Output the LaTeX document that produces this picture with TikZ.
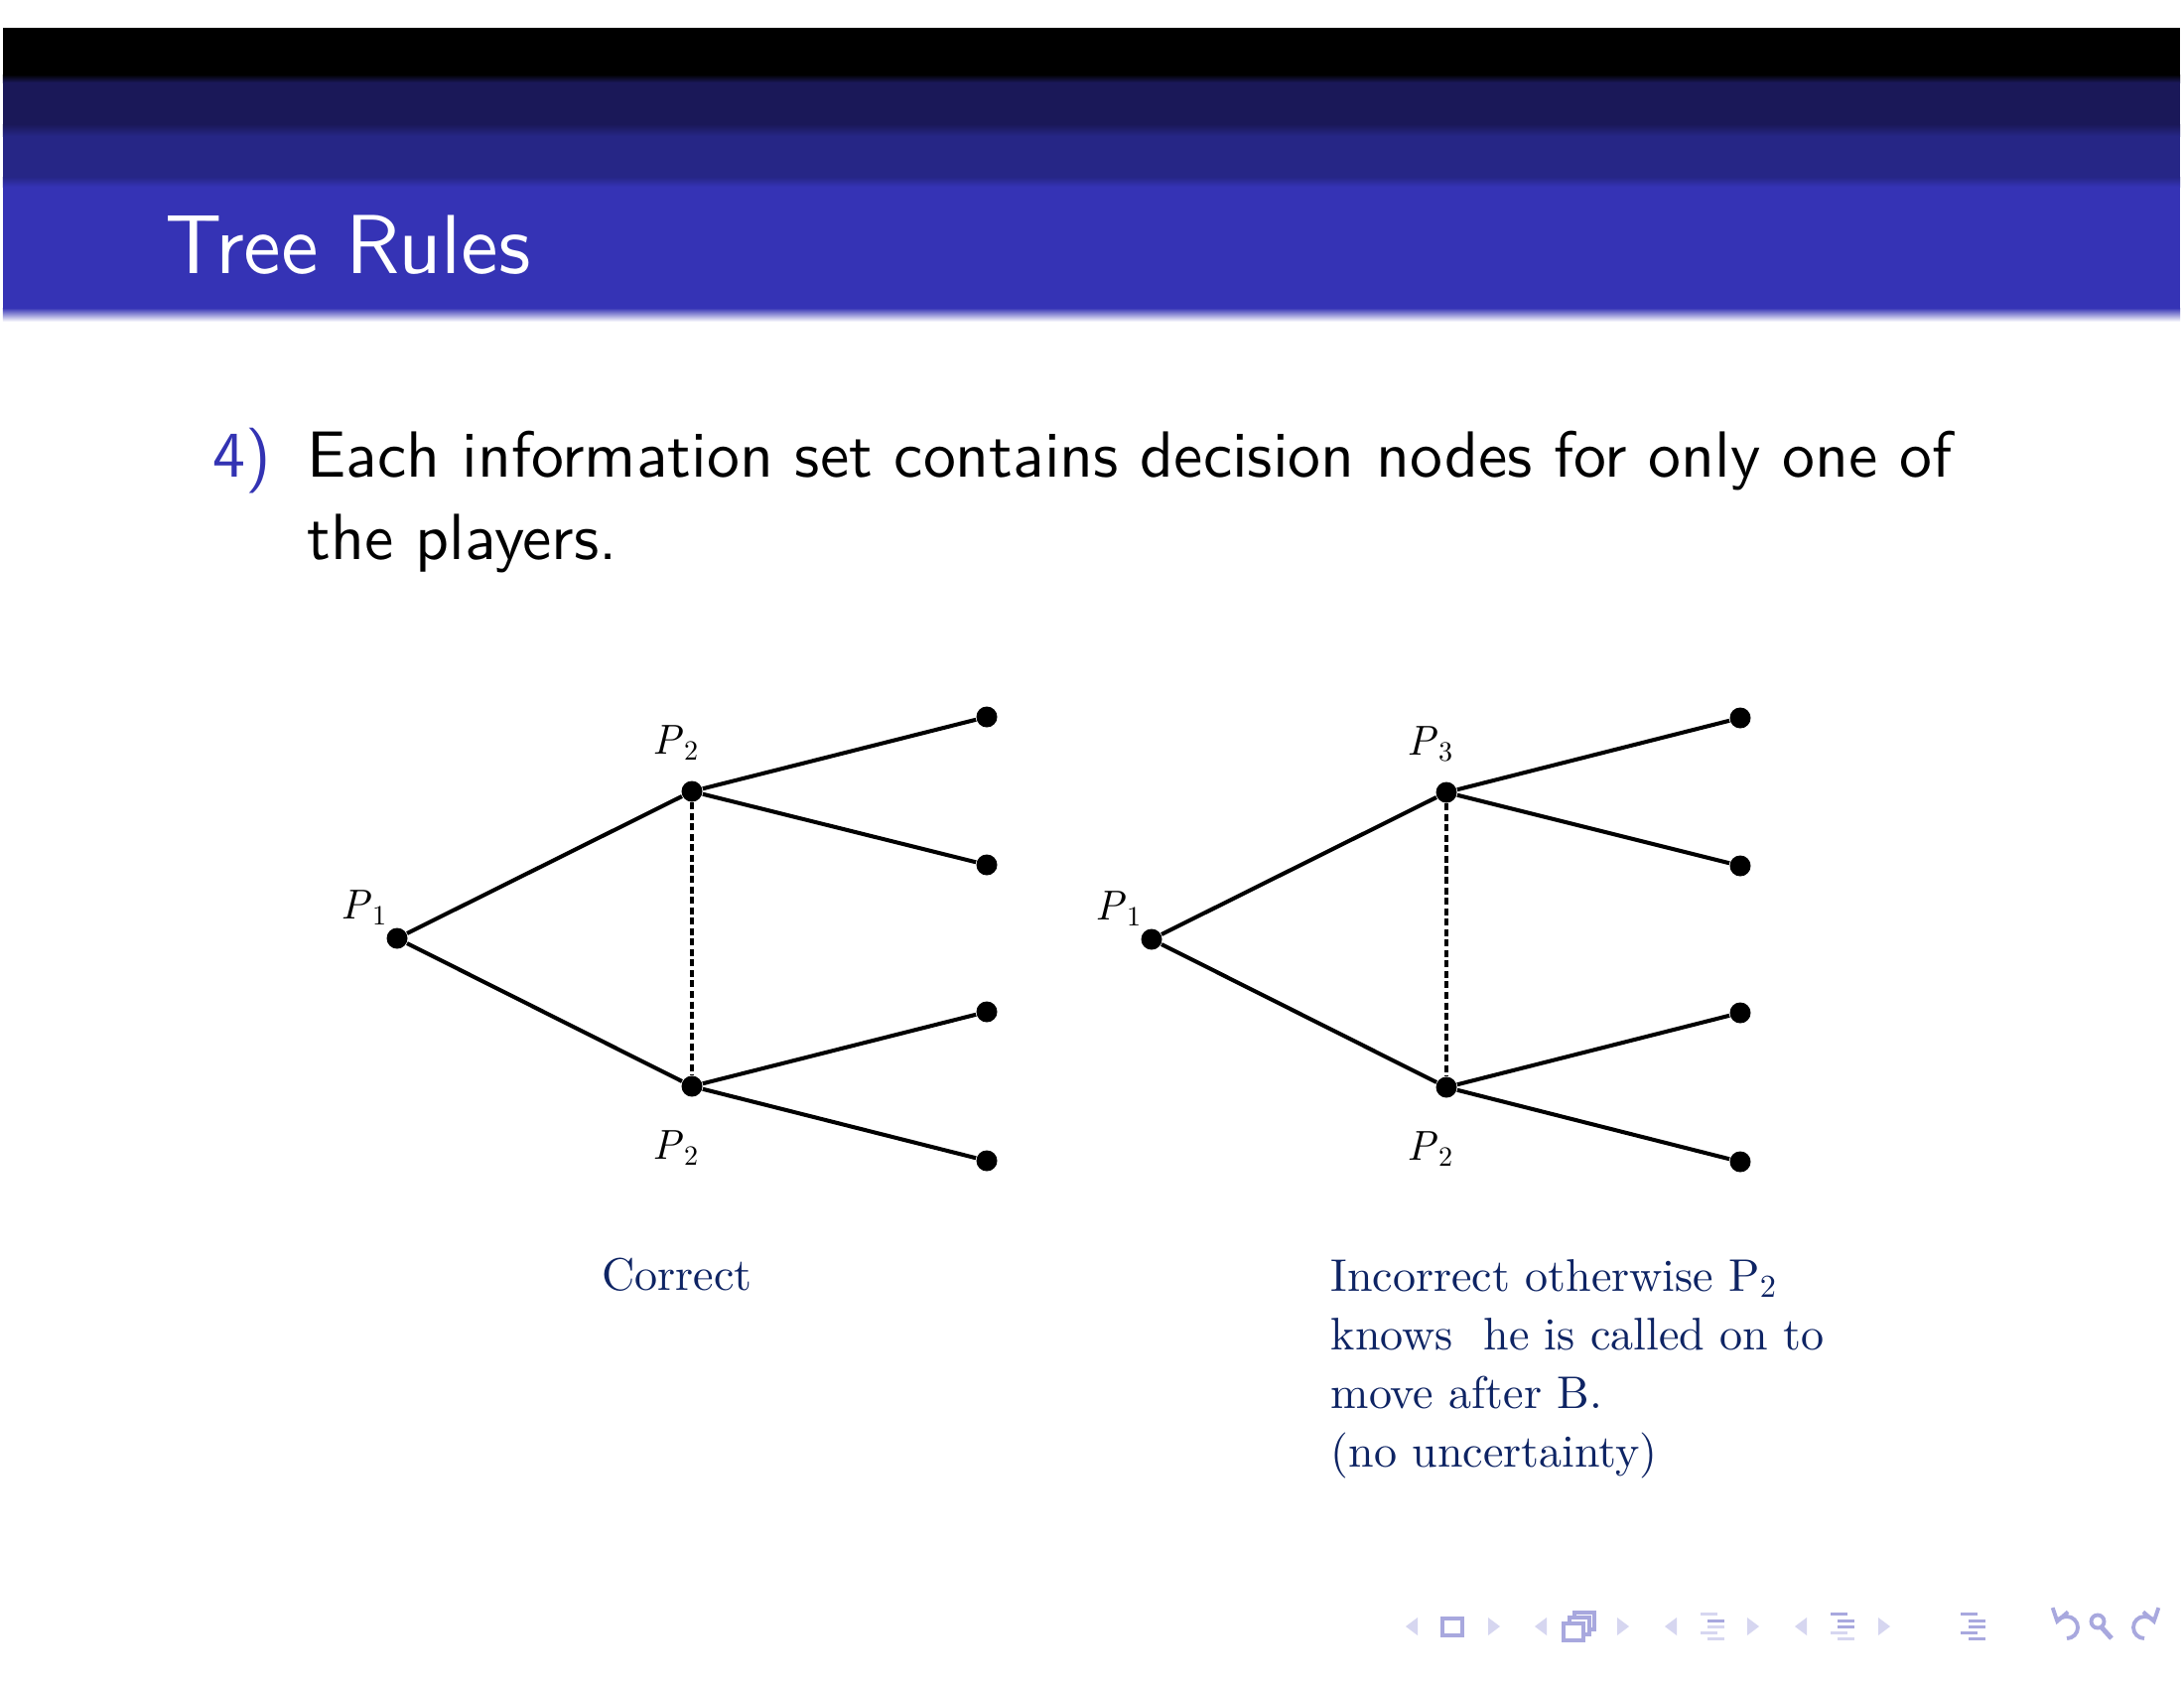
\documentclass[tikz,border=0pt]{standalone}
\usepackage{fontspec}
\setmainfont{lmroman10-regular.otf}[ItalicFont=lmroman10-italic.otf]
\setsansfont{lmsans10-regular.otf}
\usetikzlibrary{arrows.meta}
\definecolor{navyA}{RGB}{26,24,88}
\definecolor{navyB}{RGB}{38,38,134}
\definecolor{headblue}{RGB}{53,51,181}
\definecolor{structblue}{RGB}{51,51,179}
\definecolor{notecol}{RGB}{14,36,100}
\definecolor{navlight}{RGB}{214,214,240}
\definecolor{navdark}{RGB}{168,168,222}
\newcommand{\pl}[1]{\textit{P}\kern0.3pt\textsubscript{#1}}
\begin{document}
\begin{tikzpicture}[x=1cm,y=-1cm,
  dot/.style={circle,fill=black,inner sep=0pt,minimum size=0.21cm},
  branch/.style={line width=1.15pt},
  infoset/.style={line width=1pt,dash pattern=on 2pt off 1pt},
  plabel/.style={font=\fontsize{12}{14}\selectfont,inner sep=0pt,anchor=base},
  note/.style={text=notecol,font=\fontsize{13.1}{16.8}\selectfont,inner sep=0pt,anchor=base west},
  body/.style={font=\sffamily\fontsize{18.7}{23.6}\selectfont,inner sep=0pt,anchor=base west},
  navtri/.style={fill=navlight},
  navline/.style={draw=navdark,line width=1.3pt},
  barL/.style={fill=navlight},
  barD/.style={fill=navdark}]
\useasboundingbox[fill=white] (0,0) rectangle (22,17);
% header
\fill[black] (0.03,0.28) rectangle (21.96,0.75);
\shade[top color=black,bottom color=navyA] (0.03,0.75) rectangle (21.96,0.83);
\fill[navyA] (0.03,0.83) rectangle (21.96,1.25);
\shade[top color=navyA,bottom color=navyB] (0.03,1.25) rectangle (21.96,1.37);
\fill[navyB] (0.03,1.37) rectangle (21.96,1.78);
\shade[top color=navyB,bottom color=headblue] (0.03,1.78) rectangle (21.96,1.88);
\fill[headblue] (0.03,1.88) rectangle (21.96,3.10);
\shade[top color=headblue,bottom color=white] (0.03,3.10) rectangle (21.96,3.24);
\node[anchor=base west,inner sep=0pt,text=white,font=\sffamily\fontsize{24}{29}\selectfont] (title) at (1.66,2.75) {Tree Rules};
% body text
\node[body,text=structblue] (num) at (2.14,4.80) {4)};
\node[body] (line1) at (3.09,4.80) {Each information set contains decision nodes for only one of};
\node[body] (line2) at (3.09,5.63) {the players.};
% left tree
\node[dot] (a1) at (4.00,9.45) {};
\node[dot] (a2) at (6.97,7.97) {};
\node[dot] (a3) at (6.97,10.94) {};
\node[dot] (a4) at (9.94,7.22) {};
\node[dot] (a5) at (9.94,8.71) {};
\node[dot] (a6) at (9.94,10.19) {};
\node[dot] (a7) at (9.94,11.69) {};
\draw[branch] (a1) -- (a2);
\draw[branch] (a1) -- (a3);
\draw[branch] (a2) -- (a4);
\draw[branch] (a2) -- (a5);
\draw[branch] (a3) -- (a6);
\draw[branch] (a3) -- (a7);
\draw[infoset] (a2) -- (a3);
\node[plabel] (la1) at (3.67,9.25) {\pl{1}};
\node[plabel] (la2) at (6.81,7.59) {\pl{2}};
\node[plabel] (la3) at (6.81,11.67) {\pl{2}};
\node[note,anchor=base] (correct) at (6.82,12.99) {Correct};
% right tree
\node[dot] (b1) at (11.60,9.46) {};
\node[dot] (b2) at (14.57,7.98) {};
\node[dot] (b3) at (14.57,10.95) {};
\node[dot] (b4) at (17.53,7.23) {};
\node[dot] (b5) at (17.53,8.72) {};
\node[dot] (b6) at (17.53,10.20) {};
\node[dot] (b7) at (17.53,11.70) {};
\draw[branch] (b1) -- (b2);
\draw[branch] (b1) -- (b3);
\draw[branch] (b2) -- (b4);
\draw[branch] (b2) -- (b5);
\draw[branch] (b3) -- (b6);
\draw[branch] (b3) -- (b7);
\draw[infoset] (b2) -- (b3);
\node[plabel] (lb1) at (11.27,9.26) {\pl{1}};
\node[plabel] (lb2) at (14.41,7.60) {\pl{3}};
\node[plabel] (lb3) at (14.41,11.68) {\pl{2}};
\node[note] (inc1) at (13.40,13.00) {Incorrect otherwise P\textsubscript{2}};
\node[note] (inc2) at (13.40,13.59) {knows\ \ he is called on to};
\node[note] (inc3) at (13.40,14.18) {move after B.};
\node[note] (inc4) at (13.40,14.77) {(no uncertainty)};
% navigation symbols
\fill[navtri] (14.16,16.38) -- (14.28,16.29) -- (14.28,16.47) -- cycle;
\draw[navline] (14.53,16.30) rectangle (14.73,16.47);
\fill[navtri] (15.11,16.38) -- (14.99,16.29) -- (14.99,16.47) -- cycle;
\fill[navtri] (15.46,16.38) -- (15.58,16.29) -- (15.58,16.47) -- cycle;
\draw[navline,fill=white] (15.86,16.24) rectangle (16.06,16.41);
\draw[navline,fill=white] (15.81,16.29) rectangle (16.01,16.46);
\draw[navline,fill=white] (15.75,16.35) rectangle (15.95,16.52);
\fill[navtri] (16.41,16.38) -- (16.29,16.29) -- (16.29,16.47) -- cycle;
\fill[navtri] (16.77,16.38) -- (16.89,16.29) -- (16.89,16.47) -- cycle;
\fill[barL] (17.13,16.24) rectangle (17.30,16.27);
\fill[barD] (17.20,16.31) rectangle (17.37,16.34);
\fill[barL] (17.20,16.37) rectangle (17.37,16.40);
\fill[barL] (17.13,16.43) rectangle (17.30,16.46);
\fill[barL] (17.20,16.49) rectangle (17.37,16.52);
\fill[navtri] (17.72,16.38) -- (17.60,16.29) -- (17.60,16.47) -- cycle;
\fill[navtri] (18.08,16.38) -- (18.20,16.29) -- (18.20,16.47) -- cycle;
\fill[barD] (18.44,16.24) rectangle (18.61,16.27);
\fill[barD] (18.51,16.31) rectangle (18.68,16.34);
\fill[barD] (18.51,16.37) rectangle (18.68,16.40);
\fill[barL] (18.44,16.43) rectangle (18.61,16.46);
\fill[barL] (18.51,16.49) rectangle (18.68,16.52);
\fill[navtri] (19.04,16.38) -- (18.92,16.29) -- (18.92,16.47) -- cycle;
\fill[barD] (19.75,16.24) rectangle (19.92,16.27);
\fill[barD] (19.83,16.31) rectangle (20.00,16.34);
\fill[barD] (19.83,16.37) rectangle (20.00,16.40);
\fill[barD] (19.75,16.43) rectangle (19.92,16.46);
\fill[barD] (19.83,16.49) rectangle (20.00,16.52);
\draw[navdark,line width=1.1pt,-{Straight Barb[length=1.2mm,width=1.6mm]}] (20.82,16.50) arc[start angle=90,end angle=-165,radius=0.11];
\draw[navdark,line width=1.1pt] (21.13,16.33) circle[radius=0.065];
\draw[navdark,line width=1.4pt] (21.17,16.39) -- (21.27,16.50);
\draw[navdark,line width=1.1pt,-{Straight Barb[length=1.2mm,width=1.6mm]}] (21.60,16.50) arc[start angle=90,end angle=345,radius=0.11];
\end{tikzpicture}
\end{document}
